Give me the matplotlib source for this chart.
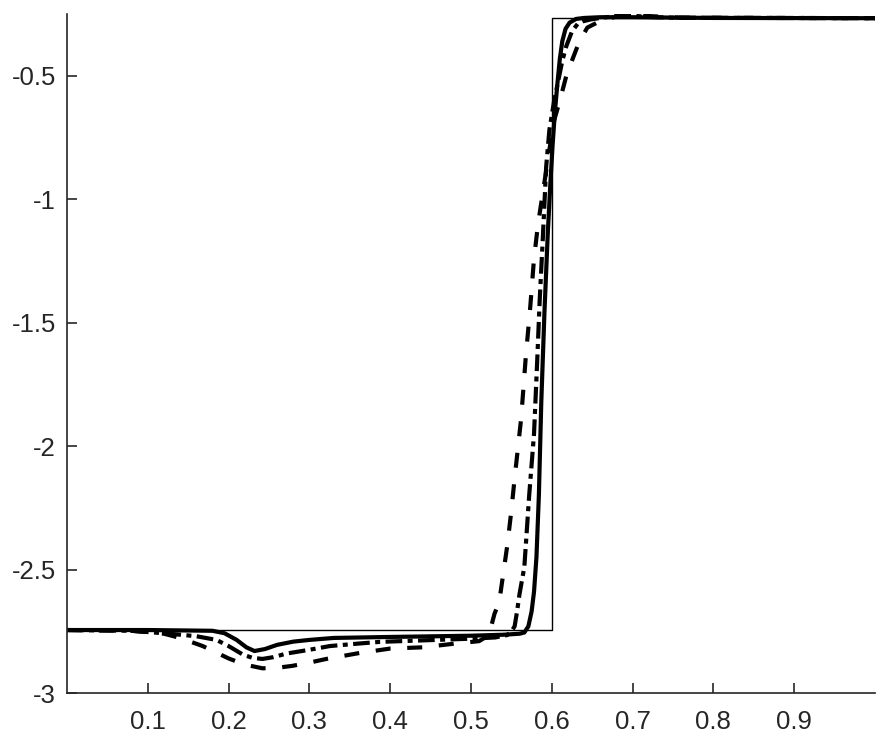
import numpy as np
import matplotlib
matplotlib.use("Agg")
import matplotlib.pyplot as plt

plt.rcParams['font.family'] = ['Liberation Sans', 'DejaVu Sans']
plt.rcParams['axes.unicode_minus'] = False

# exact step solution
x_exact = [0.0, 0.6, 0.6, 1.0]
y_exact = [-2.745, -2.745, -0.267, -0.267]

# solid curve
x_solid = [0.0, 0.10, 0.18, 0.195, 0.21, 0.222, 0.232, 0.245, 0.26, 0.28, 0.30, 0.33,
           0.40, 0.46, 0.50, 0.54, 0.56, 0.566, 0.571, 0.575, 0.578, 0.581, 0.584,
           0.587, 0.591, 0.595, 0.598, 0.601, 0.604, 0.607, 0.610, 0.613, 0.617,
           0.622, 0.630, 0.64, 0.66, 0.70, 0.80, 1.0]
y_solid = [-2.745, -2.745, -2.748, -2.758, -2.785, -2.815, -2.83, -2.822, -2.805, -2.792,
           -2.785, -2.777, -2.773, -2.770, -2.768, -2.764, -2.760, -2.755, -2.73, -2.67,
           -2.59, -2.45, -2.2, -1.82, -1.45, -1.14, -0.95, -0.78, -0.64, -0.53, -0.43,
           -0.36, -0.31, -0.285, -0.27, -0.266, -0.263, -0.263, -0.266, -0.267]

# dash-dot curve
x_dashdot = [0.0, 0.08, 0.127, 0.16, 0.185, 0.20, 0.218, 0.23, 0.242, 0.255, 0.272,
             0.30, 0.325, 0.36, 0.387, 0.457, 0.50, 0.53, 0.545, 0.550, 0.554, 0.557,
             0.560, 0.566, 0.572, 0.578, 0.582, 0.585, 0.589, 0.593, 0.597, 0.603,
             0.608, 0.613, 0.618, 0.625, 0.632, 0.638, 0.648, 0.66, 0.68, 0.70, 0.72,
             0.75, 1.0]
y_dashdot = [-2.745, -2.748, -2.76, -2.77, -2.785, -2.81, -2.845, -2.858, -2.862, -2.855,
             -2.84, -2.825, -2.81, -2.80, -2.793, -2.785, -2.78, -2.775, -2.765, -2.75,
             -2.73, -2.67, -2.60, -2.49, -2.2, -1.95, -1.65, -1.41, -1.15, -0.87, -0.72,
             -0.60, -0.52, -0.44, -0.38, -0.32, -0.29, -0.28, -0.272, -0.266, -0.258,
             -0.257, -0.262, -0.265, -0.267]

# dashed curve
x_dashed = [0.0, 0.08, 0.12, 0.14, 0.168, 0.20, 0.22, 0.242, 0.26, 0.279, 0.30, 0.321,
            0.362, 0.40, 0.44, 0.48, 0.51, 0.52, 0.525, 0.529, 0.535, 0.545, 0.550,
            0.554, 0.562, 0.568, 0.573, 0.578, 0.583, 0.59, 0.597, 0.603, 0.610, 0.618,
            0.626, 0.634, 0.644, 0.659, 0.68, 0.70, 0.73, 0.76, 1.0]
y_dashed = [-2.745, -2.748, -2.76, -2.777, -2.81, -2.86, -2.885, -2.90, -2.898, -2.89,
            -2.877, -2.862, -2.838, -2.82, -2.815, -2.80, -2.79, -2.77, -2.73, -2.68,
            -2.63, -2.40, -2.26, -2.13, -1.89, -1.63, -1.45, -1.24, -1.10, -0.95, -0.80,
            -0.68, -0.60, -0.50, -0.43, -0.362, -0.305, -0.28, -0.26, -0.255, -0.26,
            -0.265, -0.267]

xticks = [0.1, 0.2, 0.3, 0.4, 0.5, 0.6, 0.7, 0.8, 0.9]
yticks = [-3, -2.5, -2, -1.5, -1, -0.5]
ytick_labels = ['-3', '-2.5', '-2', '-1.5', '-1', '-0.5']

fig = plt.figure(figsize=(8.87, 7.45), dpi=100)
ax = fig.add_axes([67 / 887, 1 - 693 / 745, 808 / 887, 679 / 745])

ax.plot(x_exact, y_exact, color='black', lw=1.0)
ax.plot(x_dashed, y_dashed, color='black', lw=3, linestyle=(0, (3.6, 4.0)))
ax.plot(x_dashdot, y_dashdot, color='black', lw=3, linestyle=(0, (4, 1.3, 1.2, 1.3)))
ax.plot(x_solid, y_solid, color='black', lw=3)

ax.set_xlim(0, 1)
ax.set_ylim(-3, -0.25)
ax.set_xticks(xticks)
ax.set_xticklabels([str(t) for t in xticks])
ax.set_yticks(yticks)
ax.set_yticklabels(ytick_labels)

for s in ['top', 'right']:
    ax.spines[s].set_visible(False)
for s in ['left', 'bottom']:
    ax.spines[s].set_color('#262626')
    ax.spines[s].set_linewidth(1.2)
ax.tick_params(direction='in', length=7, width=1.2, colors='#262626', labelsize=18.5)
ax.tick_params(axis='x', pad=12)
ax.tick_params(axis='y', pad=8)

fig.savefig('out.png', dpi=100)
